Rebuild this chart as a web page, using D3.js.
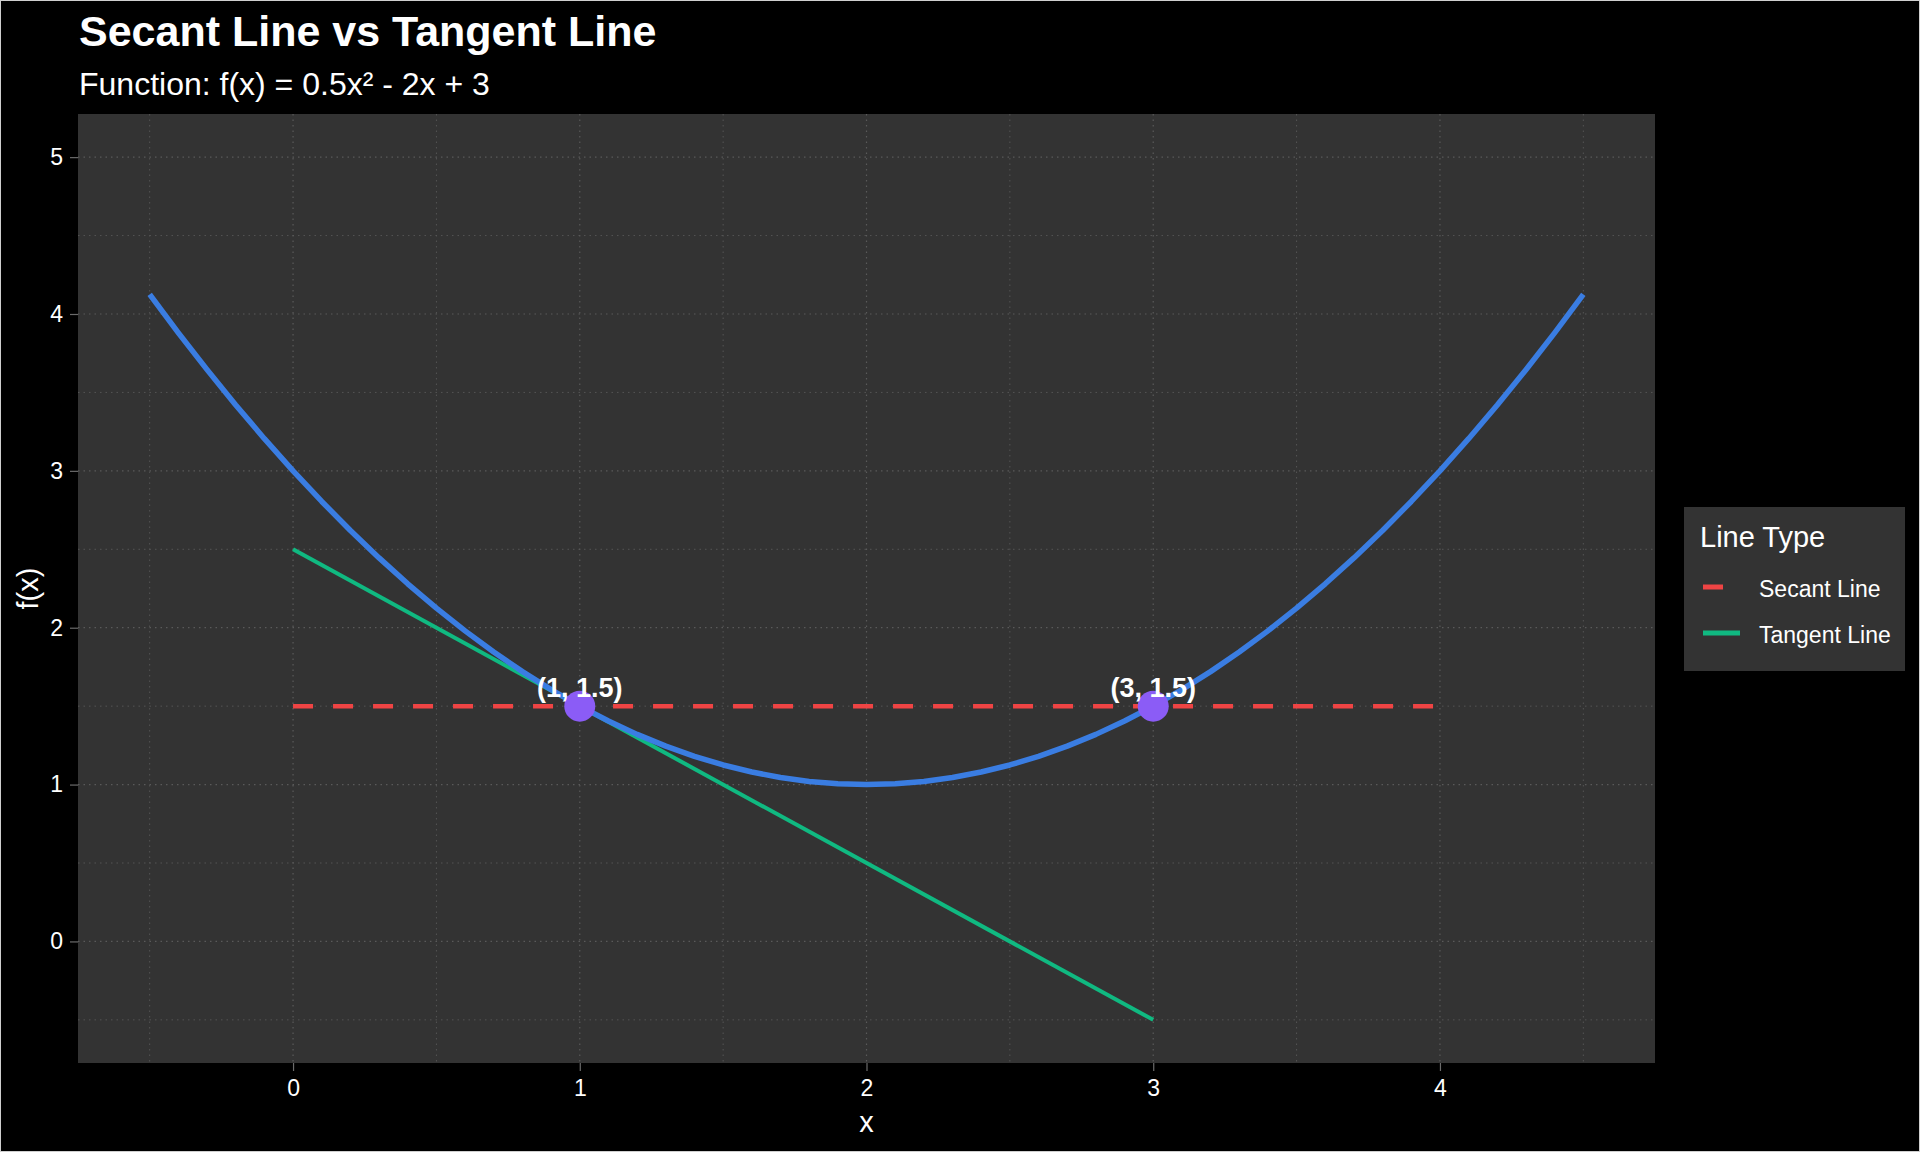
<!DOCTYPE html>
<html>
<head>
<meta charset="utf-8">
<script src="https://cdn.jsdelivr.net/npm/d3@7"></script>
<style>
  html, body { margin: 0; padding: 0; background: #000; }
  svg { display: block; }
  text { font-family: "Liberation Sans", Arial, sans-serif; fill: #ffffff; }
</style>
</head>
<body>
<svg id="chart" width="1920" height="1152"></svg>
<script>
// ---- data ----
const curveX = [-0.5, -0.4, -0.3, -0.2, -0.1, 0, 0.1, 0.2, 0.3, 0.4, 0.5, 0.6, 0.7, 0.8, 0.9, 1.0,
  1.1, 1.2, 1.3, 1.4, 1.5, 1.6, 1.7, 1.8, 1.9, 2.0, 2.1, 2.2, 2.3, 2.4, 2.5, 2.6, 2.7, 2.8, 2.9, 3.0,
  3.1, 3.2, 3.3, 3.4, 3.5, 3.6, 3.7, 3.8, 3.9, 4.0, 4.1, 4.2, 4.3, 4.4, 4.5];
const curveY = [4.125, 3.88, 3.645, 3.42, 3.205, 3, 2.805, 2.62, 2.445, 2.28, 2.125, 1.98, 1.845, 1.72, 1.605, 1.5,
  1.405, 1.32, 1.245, 1.18, 1.125, 1.08, 1.045, 1.02, 1.005, 1, 1.005, 1.02, 1.045, 1.08, 1.125, 1.18, 1.245, 1.32, 1.405, 1.5,
  1.605, 1.72, 1.845, 1.98, 2.125, 2.28, 2.445, 2.62, 2.805, 3, 3.205, 3.42, 3.645, 3.88, 4.125];
const secantX = [0, 4];
const secantY = [1.5, 1.5];
const tangentX = [0, 3];
const tangentY = [2.5, -0.5];
const pointX = [1, 3];
const pointY = [1.5, 1.5];
const pointLabels = ["(1, 1.5)", "(3, 1.5)"];
const xTicks = [0, 1, 2, 3, 4];
const yTicks = [0, 1, 2, 3, 4, 5];
const xMinor = [-0.5, 0.5, 1.5, 2.5, 3.5, 4.5];
const yMinor = [-0.5, 0.5, 1.5, 2.5, 3.5, 4.5];
const legendLabels = ["Secant Line", "Tangent Line"];
const titleText = "Secant Line vs Tangent Line";
const subtitleText = "Function: f(x) = 0.5x\u00B2 - 2x + 3";

// ---- layout ----
const W = 1920, H = 1152;
const panel = { left: 78, right: 1655, top: 114, bottom: 1063 };
const colors = { curve: "#3A7DE2", secant: "#EF4444", tangent: "#10B981", point: "#8B5CF6" };

const svg = d3.select("#chart");
svg.append("rect").attr("x", 0.5).attr("y", 0.5).attr("width", W - 1).attr("height", H - 1)
  .attr("fill", "#000").attr("stroke", "#cfcfcf").attr("stroke-width", 1);

const x = d3.scaleLinear().domain([-0.75, 4.75]).range([panel.left, panel.right]);
const y = d3.scaleLinear().domain([-0.775, 5.275]).range([panel.bottom, panel.top]);

// panel
svg.append("rect").attr("x", panel.left).attr("y", panel.top)
  .attr("width", panel.right - panel.left).attr("height", panel.bottom - panel.top)
  .attr("fill", "#333333");

const grid = svg.append("g");
grid.selectAll(".vminor").data(xMinor).enter().append("line")
  .attr("x1", d => x(d)).attr("x2", d => x(d)).attr("y1", panel.top).attr("y2", panel.bottom)
  .attr("stroke", "#555555").attr("stroke-width", 1).attr("stroke-dasharray", "1.5,4");
grid.selectAll(".hminor").data(yMinor).enter().append("line")
  .attr("y1", d => y(d)).attr("y2", d => y(d)).attr("x1", panel.left).attr("x2", panel.right)
  .attr("stroke", "#555555").attr("stroke-width", 1).attr("stroke-dasharray", "1.5,4");
grid.selectAll(".vmajor").data(xTicks).enter().append("line")
  .attr("x1", d => x(d)).attr("x2", d => x(d)).attr("y1", panel.top).attr("y2", panel.bottom)
  .attr("stroke", "#5a5a5a").attr("stroke-width", 1.2).attr("stroke-dasharray", "1.5,4");
grid.selectAll(".hmajor").data(yTicks).enter().append("line")
  .attr("y1", d => y(d)).attr("y2", d => y(d)).attr("x1", panel.left).attr("x2", panel.right)
  .attr("stroke", "#5a5a5a").attr("stroke-width", 1.2).attr("stroke-dasharray", "1.5,4");

// axes
const xAxis = svg.append("g").attr("transform", `translate(0,${panel.bottom})`)
  .call(d3.axisBottom(x).tickValues(xTicks).tickFormat(d3.format("d")).tickSize(8).tickPadding(9));
const yAxis = svg.append("g").attr("transform", `translate(${panel.left},0)`)
  .call(d3.axisLeft(y).tickValues(yTicks).tickFormat(d3.format("d")).tickSize(8).tickPadding(7));
[xAxis, yAxis].forEach(a => {
  a.select(".domain").remove();
  a.selectAll(".tick line").attr("stroke", "#6b6b6b").attr("stroke-width", 1.2);
  a.selectAll(".tick text").attr("fill", "#ffffff").style("font-size", "23px")
    .style("font-family", "'Liberation Sans', Arial, sans-serif");
});

// data lines
const lineGen = d3.line().x(d => x(d[0])).y(d => y(d[1]));
svg.append("path").datum(tangentX.map((v, i) => [v, tangentY[i]]))
  .attr("d", lineGen).attr("fill", "none").attr("stroke", colors.tangent).attr("stroke-width", 4);
svg.append("path").datum(curveX.map((v, i) => [v, curveY[i]]))
  .attr("d", lineGen).attr("fill", "none").attr("stroke", colors.curve).attr("stroke-width", 5.5)
  .attr("stroke-linejoin", "round");
svg.append("path").datum(secantX.map((v, i) => [v, secantY[i]]))
  .attr("d", lineGen).attr("fill", "none").attr("stroke", colors.secant).attr("stroke-width", 4.5)
  .attr("stroke-dasharray", "20,20");

// points
svg.selectAll(".pt").data(pointX.map((v, i) => [v, pointY[i]])).enter().append("circle")
  .attr("cx", d => x(d[0])).attr("cy", d => y(d[1])).attr("r", 15.5).attr("fill", colors.point);
svg.selectAll(".ptlab").data(pointX.map((v, i) => [v, pointY[i], pointLabels[i]])).enter().append("text")
  .attr("x", d => x(d[0])).attr("y", d => y(d[1]) - 9.5).attr("text-anchor", "middle")
  .style("font-size", "27px").style("font-weight", "bold").text(d => d[2]);

// titles
svg.append("text").attr("x", 79).attr("y", 46).style("font-size", "43px").style("font-weight", "bold").text(titleText);
svg.append("text").attr("x", 79).attr("y", 95).style("font-size", "32px").text(subtitleText);

// axis titles
svg.append("text").attr("x", (panel.left + panel.right) / 2).attr("y", 1132).attr("text-anchor", "middle")
  .style("font-size", "29px").text("x");
svg.append("text").attr("transform", `translate(38,${(panel.top + panel.bottom) / 2}) rotate(-90)`)
  .attr("text-anchor", "middle").style("font-size", "29px").text("f(x)");

// legend
const leg = svg.append("g");
leg.append("rect").attr("x", 1684).attr("y", 507).attr("width", 221).attr("height", 164).attr("fill", "#333333");
leg.append("text").attr("x", 1700).attr("y", 547).style("font-size", "29px").text("Line Type");
const legColors = [colors.secant, colors.tangent];
const legDash = ["20,20", null];
legendLabels.forEach((lab, i) => {
  const cy = 587 + i * 46;
  leg.append("line").attr("x1", 1703).attr("x2", 1740).attr("y1", cy).attr("y2", cy)
    .attr("stroke", legColors[i]).attr("stroke-width", 5).attr("stroke-dasharray", legDash[i]);
  leg.append("text").attr("x", 1759).attr("y", cy + 10).style("font-size", "23px").text(lab);
});
</script>
</body>
</html>
